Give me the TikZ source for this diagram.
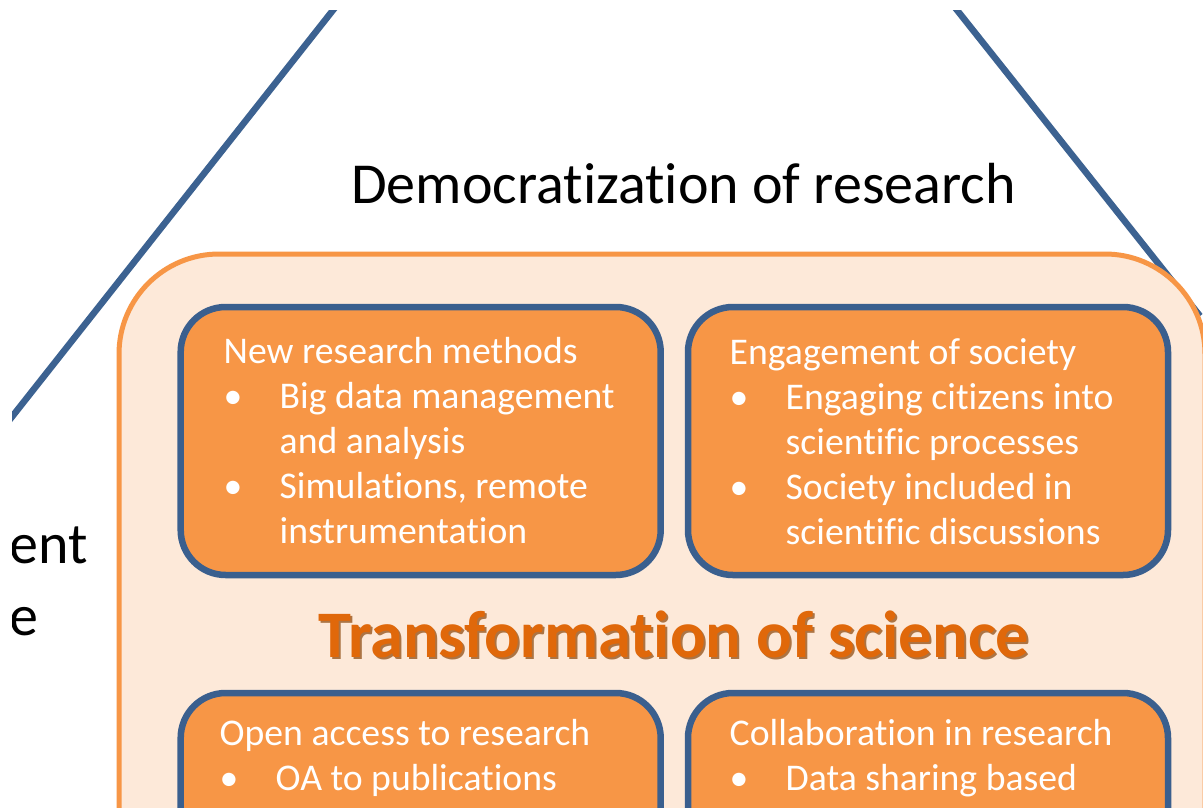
\documentclass[tikz,border=0pt]{standalone}
\usepackage{fontspec}
\setmainfont{Carlito}[Ligatures={NoCommon}]
\usepackage{array}
\definecolor{lineblue}{HTML}{3C6291}
\definecolor{boxblue}{HTML}{3A5F8E}
\definecolor{orfill}{HTML}{F79646}
\definecolor{paleor}{HTML}{FDE9D9}
\definecolor{trorange}{HTML}{E0680A}
\definecolor{trshadow}{HTML}{8A4306}
\begin{document}
\begin{tikzpicture}[x=1pt,y=-1pt,
  guide/.style={draw=lineblue,line width=6.5pt},
  outerbox/.style={draw=orfill,fill=paleor,line width=5pt,rounded corners=100pt},
  topic/.style={draw=boxblue,fill=orfill,line width=6.5pt,rounded corners=45pt,
    minimum width=480pt,minimum height=268pt,anchor=north west,inner sep=0pt,outer sep=0pt},
  boxtext/.style={anchor=north west,inner sep=0pt,text=white,align=left,
    font=\fontsize{37.7}{45}\selectfont},
  bigtext/.style={font=\fontsize{58}{68}\selectfont,text=black,inner sep=0pt},
  headline/.style={font=\bfseries\fontsize{66.5}{78}\selectfont,inner sep=0pt,anchor=base}]
\fill[white] (0,0) rectangle (1203,807);
\useasboundingbox (0,0) rectangle (1203,807);
\clip (12,10) rectangle (1203,807);
% guide lines of the surrounding shape
\coordinate (la) at (341,0);
\coordinate (lb) at (0,432);
\coordinate (ra) at (949,0);
\coordinate (rb) at (1200,316);
\draw[guide] (la) -- (lb);
\draw[guide] (ra) -- (rb);
% outer panel
\node[outerbox,minimum width=1086pt,minimum height=900pt,anchor=north west,inner sep=0pt,outer sep=0pt] (panel) at (119,254) {};
% topic boxes
\node[topic] (b1) at (180.7,307) {};
\node[topic] (b2) at (688,307) {};
\node[topic] (b3) at (180.7,693) {};
\node[topic] (b4) at (688,693) {};
% texts
\node[bigtext,anchor=base] (demo) at (683.5,203) {Democratization of research};
\node[bigtext,anchor=base west] (ent) at (9,563) {ent};
\node[bigtext,anchor=base west] (e) at (9,635) {e};
\node[headline,text=trshadow,opacity=0.7] (trsh) at (676,659) {Transformation of science};
\node[headline,text=trorange] (tr) at (674,657) {Transformation of science};
\node[boxtext] (t1) at (223.5,331.5) {\begin{tabular}{@{}p{56pt}@{}l@{}}
\multicolumn{2}{@{}l@{}}{New research methods}\\
\textbullet & Big data management\\
 & and analysis\\
\textbullet & Simulations, remote\\
 & instrumentation
\end{tabular}};
\node[boxtext] (t2) at (729.5,333) {\begin{tabular}{@{}p{56pt}@{}l@{}}
\multicolumn{2}{@{}l@{}}{Engagement of society}\\
\textbullet & Engaging citizens into\\
 & scientific processes\\
\textbullet & Society included in\\
 & scientific discussions
\end{tabular}};
\node[boxtext] (t3) at (219.5,713.5) {\begin{tabular}{@{}p{56pt}@{}l@{}}
\multicolumn{2}{@{}l@{}}{Open access to research}\\
\textbullet & OA to publications
\end{tabular}};
\node[boxtext] (t4) at (729.5,713.5) {\begin{tabular}{@{}p{56pt}@{}l@{}}
\multicolumn{2}{@{}l@{}}{Collaboration in research}\\
\textbullet & Data sharing based
\end{tabular}};
\end{tikzpicture}
\end{document}
